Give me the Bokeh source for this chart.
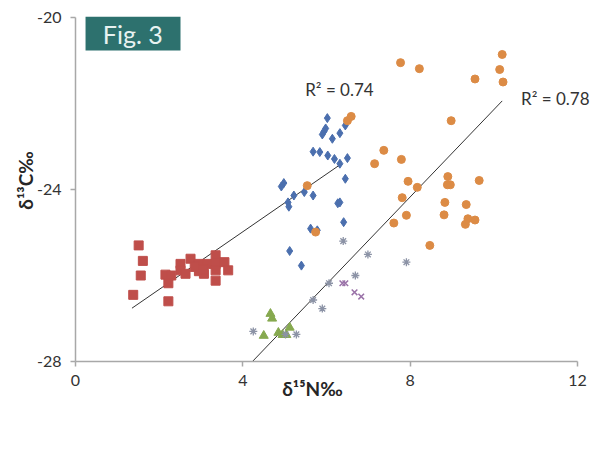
from bokeh.plotting import figure
from bokeh.models import Range1d, FixedTicker, Label, BoxAnnotation, PrintfTickFormatter
from bokeh.embed import file_html
from bokeh.resources import INLINE
import math

# ---- data ----
red_x = [1.51, 1.61, 1.56, 1.38, 2.22, 2.15, 2.29, 2.22, 2.51, 2.51, 2.75, 2.63,
         2.95, 2.95, 3.07, 3.15, 3.35, 3.35, 3.35, 3.35, 3.56, 3.65, 2.85, 3.05]
red_y = [-25.30, -25.66, -26.00, -26.45, -26.60, -25.98, -26.00, -26.18, -25.73, -25.88, -25.61, -25.96,
         -25.73, -25.90, -25.96, -25.73, -25.53, -25.73, -25.88, -26.12, -25.69, -25.88, -25.80, -25.85]

blue_x = [6.02, 5.94, 5.90, 5.98, 6.14, 6.32, 6.45, 5.68, 5.84, 6.03, 6.19, 6.32, 6.50, 6.45,
          4.98, 4.92, 5.22, 5.47, 5.68, 5.08, 5.10, 6.27, 6.32, 6.41, 5.62, 5.78, 5.12, 5.40]
blue_y = [-22.34, -22.65, -22.72, -22.58, -22.82, -22.69, -22.51, -23.12, -23.13, -23.21, -23.29, -23.40, -23.27, -23.75,
          -23.85, -23.93, -24.14, -24.06, -24.14, -24.30, -24.40, -24.32, -24.30, -24.76, -24.91, -24.95, -25.43, -25.77]

orange_x = [6.50, 6.59, 5.54, 5.74, 7.77, 8.22, 9.55, 10.20, 10.14, 10.22, 8.98, 7.37, 7.15, 7.79, 7.95,
            8.17, 8.90, 8.89, 8.96, 9.65, 7.81, 7.91, 7.61, 8.83, 8.81, 9.34, 9.38, 9.55, 9.32, 8.47]
orange_y = [-22.40, -22.30, -23.91, -24.99, -21.05, -21.19, -21.43, -20.86, -21.21, -21.50, -22.40, -23.09, -23.40, -23.30, -23.81,
            -23.95, -23.70, -23.89, -23.89, -23.79, -24.19, -24.60, -24.78, -24.30, -24.59, -24.35, -24.68, -24.71, -24.81, -25.30]

green_x = [4.66, 4.70, 4.50, 4.85, 4.95, 5.04, 5.12]
green_y = [-26.89, -27.00, -27.40, -27.33, -27.38, -27.38, -27.21]

purple_x = [6.38, 6.45, 6.67, 6.83]
purple_y = [-26.18, -26.18, -26.39, -26.49]

star_x = [4.25, 5.02, 5.28, 6.40, 6.99, 7.91, 6.69, 6.06, 5.68, 5.90]
star_y = [-27.30, -27.37, -27.37, -25.20, -25.51, -25.69, -26.00, -26.18, -26.57, -26.77]

trend1_x = [1.35, 6.33]
trend1_y = [-26.76, -23.42]
trend2_x = [4.23, 10.20]
trend2_y = [-28.00, -21.94]

r2_labels = ["R\u00b2 = 0.74", "R\u00b2 = 0.78"]
x_title = "\u03b4\u00b9\u2075N\u2030"
y_title = "\u03b4\u00b9\u00b3C\u2030"
x_ticks = [0, 4, 8, 12]
y_ticks = [-28, -24, -20]

FONT = "Lato"

W, H = 594, 435
PX_X = 41.833   # px per x unit
PX_Y = 43.0     # px per y unit
X0_PX, Y20_PX = 75, 17   # pixel of x=0 and of y=-20

p = figure(width=W, height=H, output_backend="svg", toolbar_location=None,
           x_range=Range1d(-X0_PX / PX_X, (W - X0_PX) / PX_X),
           y_range=Range1d(-20 - (H - Y20_PX) / PX_Y, -20 + Y20_PX / PX_Y),
           min_border=0, min_border_left=0, min_border_right=0, min_border_top=0, min_border_bottom=0)
p.outline_line_color = None
p.xgrid.visible = False
p.ygrid.visible = False
p.background_fill_color = "white"
p.border_fill_color = "white"

p.xaxis.bounds = (0, 12)
p.yaxis.bounds = (-28, -20)
p.xaxis.fixed_location = -28
p.yaxis.fixed_location = 0

for ax, ticks in ((p.xaxis[0], x_ticks), (p.yaxis[0], y_ticks)):
    ax.ticker = FixedTicker(ticks=ticks)
    ax.formatter = PrintfTickFormatter(format="%d")
    ax.minor_tick_line_color = None
    ax.major_tick_in = 0
    ax.major_tick_out = 5
    ax.axis_line_color = "#a8a8a8"
    ax.axis_line_width = 1.5
    ax.major_tick_line_color = "#a8a8a8"
    ax.major_tick_line_width = 1.5
    ax.major_label_text_font = FONT
    ax.major_label_text_font_size = "16px"
    ax.major_label_text_color = "#333333"
p.xaxis.major_label_standoff = 8
p.yaxis.major_label_standoff = 9

# regression lines
p.line(trend1_x, trend1_y, line_color="#333333", line_width=1)
p.line(trend2_x, trend2_y, line_color="#333333", line_width=1)

# series
p.scatter(red_x, red_y, marker="square", size=9, fill_color="#bf4e4a", line_color="#bf4e4a")
p.scatter(blue_x, blue_y, marker="diamond", size=9, fill_color="#4b6fae", line_color="#4b6fae")
p.scatter(orange_x, orange_y, marker="circle", size=8, fill_color="#dc8b45", line_color="#dc8b45")
p.scatter(green_x, green_y, marker="triangle", size=9, fill_color="#86a94f", line_color="#86a94f")
p.scatter(star_x, star_y, marker="asterisk", size=8, fill_color=None, line_color="#8c93a6", line_width=1.3)
p.scatter(purple_x, purple_y, marker="x", size=8, fill_color=None, line_color="#9a72a8", line_width=1.5)

# R^2 labels
p.add_layout(Label(x=6.31, y=-21.67, text=r2_labels[0], text_font=FONT, text_font_size="17px",
                   text_color="#333333", text_align="center", text_baseline="middle"))
p.add_layout(Label(x=11.47, y=-21.88, text=r2_labels[1], text_font=FONT, text_font_size="17px",
                   text_color="#333333", text_align="center", text_baseline="middle"))

# Fig. 3 box
p.add_layout(BoxAnnotation(left=0.24, right=2.51, top=-19.98, bottom=-20.77,
                           fill_color="#2d716e", fill_alpha=1.0, line_color=None))
p.add_layout(Label(x=1.37, y=-20.38, text="Fig. 3", text_font=FONT, text_font_size="25px",
                   text_color="#e8f2f1", text_align="center", text_baseline="middle"))

# axis titles
p.add_layout(Label(x=5.665, y=-28.63, text=x_title, text_font=FONT, text_font_size="19px",
                   text_font_style="bold", text_color="#262626", text_align="center", text_baseline="middle"))
p.add_layout(Label(x=-1.195, y=-23.79, text=y_title, text_font=FONT, text_font_size="19px",
                   text_font_style="bold", text_color="#262626", text_align="center", text_baseline="middle",
                   angle=math.pi / 2))

open("out.html", "w").write(file_html(p, INLINE))
